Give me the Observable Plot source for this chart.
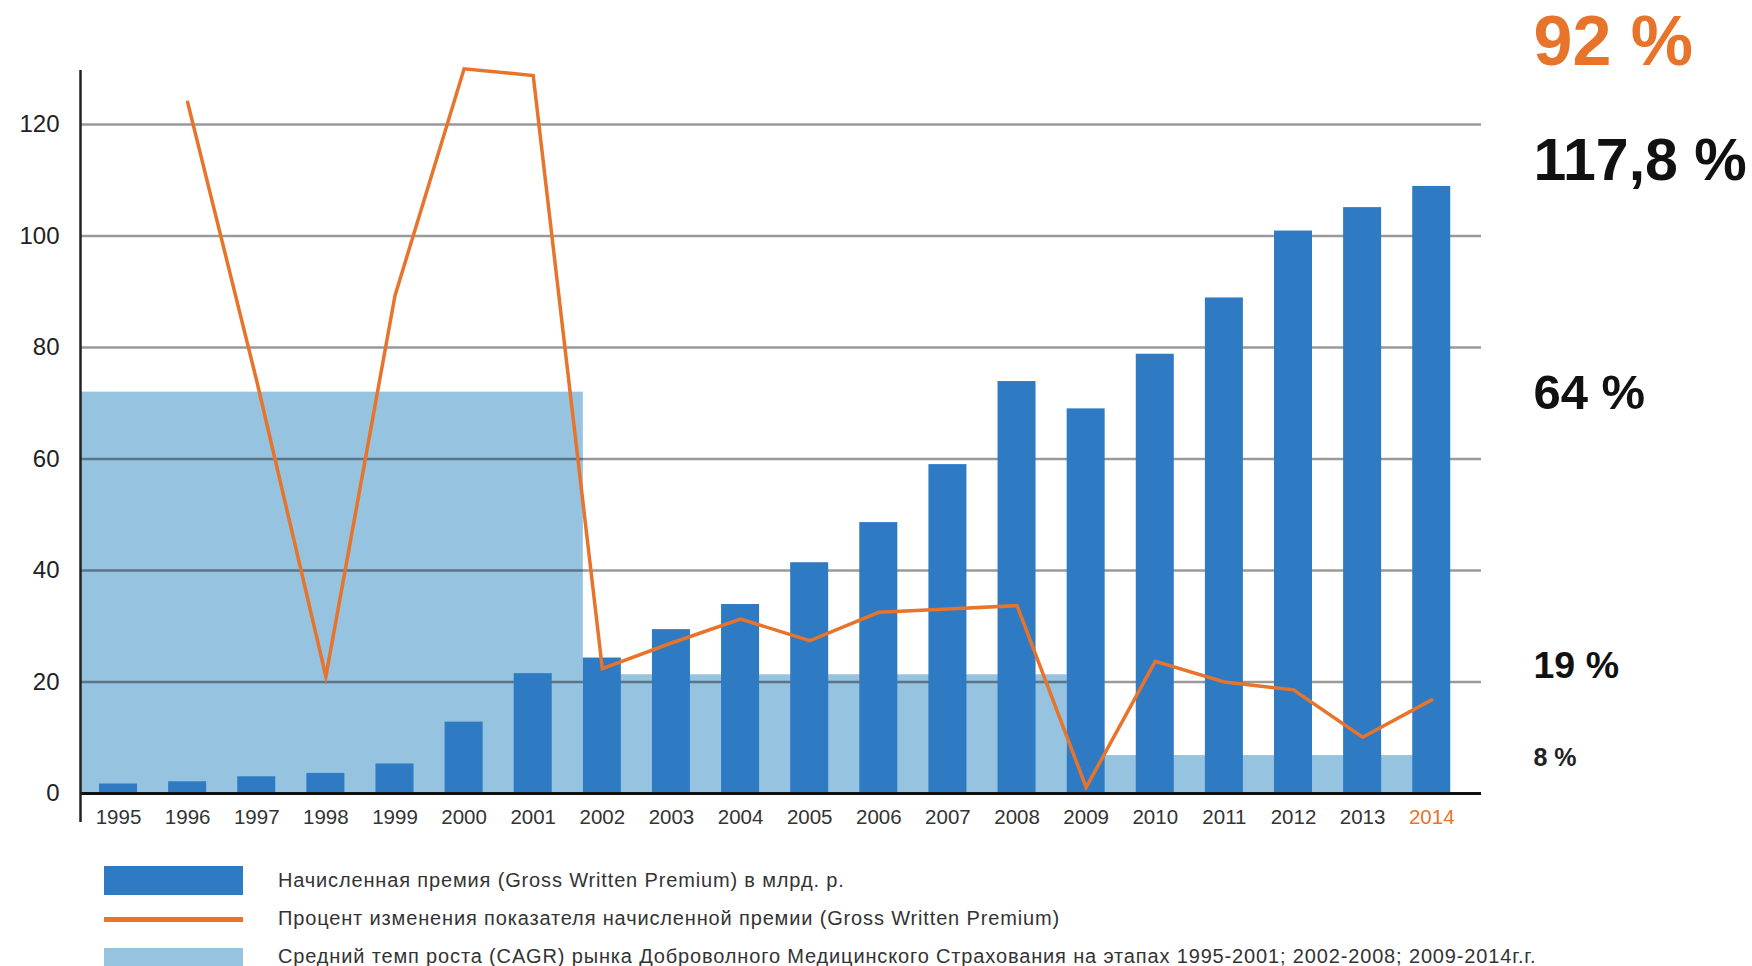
<!DOCTYPE html>
<html>
<head>
<meta charset="utf-8">
<script src="https://cdn.jsdelivr.net/npm/d3@7"></script>
<script src="https://cdn.jsdelivr.net/npm/@observablehq/plot@0.6"></script>
<style>
  html, body { margin: 0; padding: 0; background: #fff; }
  #wrap { position: relative; width: 1752px; height: 966px; overflow: hidden; font-family: "Liberation Sans", Arial, sans-serif; }
  #legend { position: absolute; left: 0; top: 840px; width: 1752px; height: 126px; }
  .sw { position: absolute; left: 104px; width: 139px; }
  .lt { position: absolute; left: 278px; font-size: 20px; letter-spacing: 0.85px; color: #333; white-space: nowrap; line-height: 1; }
</style>
</head>
<body>
<div id="wrap">
  <div id="chart"></div>
  <div id="legend"></div>
</div>
<script>
// ---- data ----
const years = [1995, 1996, 1997, 1998, 1999, 2000, 2001, 2002, 2003, 2004,
               2005, 2006, 2007, 2008, 2009, 2010, 2011, 2012, 2013, 2014];
// Начисленная премия, млрд. р.
const premium = [1.7, 2.1, 3.0, 3.6, 5.3, 12.8, 21.5, 24.3, 29.4, 33.9,
                 41.4, 48.6, 59.0, 73.9, 69.0, 78.8, 88.9, 100.9, 105.1, 108.9];
// Процент изменения начисленной премии
const change = [null, 124.0, 74.0, 21.0, 89.3, 130.0, 128.8, 22.4, 27.0, 31.3,
                27.4, 32.5, 33.1, 33.7, 1.1, 23.7, 20.0, 18.6, 10.1, 16.8];
// CAGR периоды
const cagrStart = [1995, 2002, 2009];
const cagrEnd = [2001, 2008, 2014];
const cagrLevel = [72, 21.3, 6.8];
// Подписи справа
const annText = ["92 %", "117,8 %", "64 %", "19 %", "8 %"];
const annY = [130.6, 110, 69, 20.8, 5.0];
const yTicks = [0, 20, 40, 60, 80, 100, 120];
const legendLabels = [
  "Начисленная премия (Gross Written Premium) в млрд. р.",
  "Процент изменения показателя начисленной премии (Gross Written Premium)",
  "Средний темп роста (CAGR) рынка Доброволного Медицинского Страхования на этапах 1995-2001; 2002-2008; 2009-2014г.г."
];

// ---- styles ----
const DARK = "#2e7bc3", LIGHT = "#95c3e0", ORANGE = "#e8732a";
const annSize = [70, 59, 49, 37.5, 25];
const annFill = [ORANGE, "#111", "#111", "#111", "#222"];
const annSpacing = [0, -1, 0, 0, 0];
const halfBar = 0.275;
const xDomain = [1994.45, 2014.72];

const bars = years.map((y, i) => ({year: y, premium: premium[i]}));
const lineData = years.map((y, i) => ({year: y, change: change[i]})).filter(d => d.change != null);
const cagr = cagrStart.map((s, i) => ({start: s, end: cagrEnd[i], level: cagrLevel[i]}));
const ann = annText.map((t, i) => ({text: t, y: annY[i], i}));

const W = 1752, H = 840;
const chart = Plot.plot({
  width: W,
  height: H,
  marginLeft: 80,
  marginRight: 271,
  marginTop: 70,
  marginBottom: 47,
  style: {fontFamily: "'Liberation Sans', Arial, sans-serif", background: "#fff", overflow: "visible"},
  x: {type: "linear", domain: xDomain, axis: null},
  y: {domain: [0, 129.7], axis: null},
  marks: [
    Plot.rectY(cagr, {
      x1: d => d.start === years[0] ? xDomain[0] : d.start - halfBar,
      x2: d => Math.min(d.end + 1 - halfBar, years[years.length - 1]),
      y: "level",
      fill: LIGHT
    }),
    Plot.ruleY(yTicks.filter(t => t > 0), {stroke: "#000", strokeOpacity: 0.4, strokeWidth: 2.5}),
    Plot.rectY(bars, {x1: d => d.year - halfBar, x2: d => d.year + halfBar, y: "premium", fill: DARK}),
    Plot.ruleY([0], {stroke: "#111", strokeWidth: 3}),
    Plot.ruleX([xDomain[0]], {stroke: "#222", strokeWidth: 2.5, insetBottom: -29}),
    Plot.axisY({ticks: yTicks, tickSize: 0, tickPadding: 21, fontSize: 24, fill: "#222", label: null}),
    Plot.line(lineData, {x: "year", y: "change", stroke: ORANGE, strokeWidth: 3.5, strokeLinejoin: "miter", strokeMiterlimit: 6}),
    Plot.text(years.filter(y => y !== 2014), {x: d => d, text: d => String(d), frameAnchor: "bottom", lineAnchor: "bottom", dy: 30, fontSize: 20.5, fill: "#333"}),
    Plot.text(years.filter(y => y === 2014), {x: d => d, text: d => String(d), frameAnchor: "bottom", lineAnchor: "bottom", dy: 30, fontSize: 20.5, fill: ORANGE}),
    ...ann.map(d => Plot.text([d], {
      y: "y", text: "text", frameAnchor: "right", textAnchor: "start", lineAnchor: "bottom",
      dx: 52, fontSize: annSize[d.i], fontWeight: "bold", fill: annFill[d.i],
      letterSpacing: annSpacing[d.i]
    }))
  ]
});
document.getElementById("chart").appendChild(chart);

// ---- legend (HTML below SVG) ----
const legend = document.getElementById("legend");
const swatches = [
  {top: 26, height: 29, bg: DARK},
  {top: 77, height: 5, bg: ORANGE},
  {top: 108, height: 29, bg: LIGHT}
];
const textTops = [30, 68, 106];
swatches.forEach((s, i) => {
  const sw = document.createElement("div");
  sw.className = "sw";
  sw.style.top = s.top + "px";
  sw.style.height = s.height + "px";
  sw.style.background = s.bg;
  legend.appendChild(sw);
  const t = document.createElement("div");
  t.className = "lt";
  t.style.top = textTops[i] + "px";
  t.textContent = legendLabels[i];
  legend.appendChild(t);
});
</script>
</body>
</html>
